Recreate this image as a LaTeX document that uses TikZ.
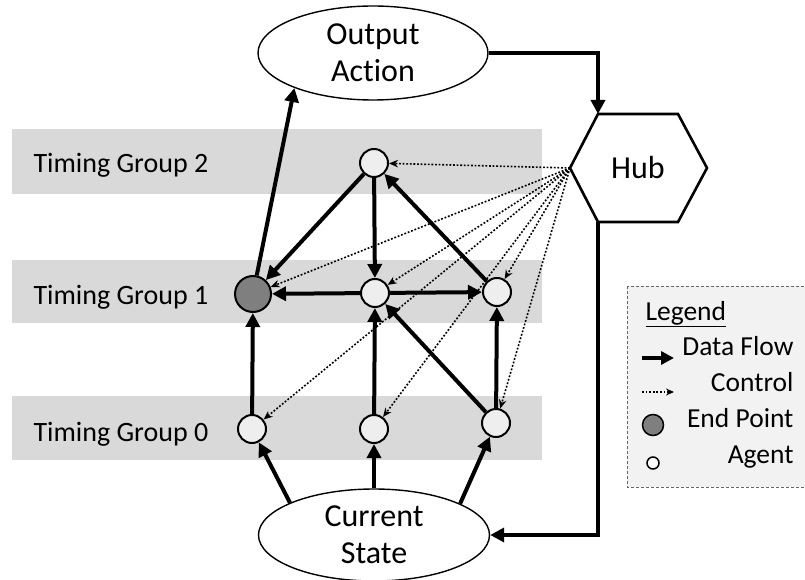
\documentclass[tikz,border=0pt]{standalone}
\usepackage{fontspec}
\setmainfont{Carlito}[Ligatures=NoCommon]
\usetikzlibrary{arrows.meta,shapes.geometric}
\definecolor{band}{HTML}{D9D9D9}
\definecolor{endfill}{HTML}{7F7F7F}
\definecolor{agentfill}{HTML}{EEEEEE}
\definecolor{legfill}{HTML}{F2F2F2}
\definecolor{legline}{HTML}{666666}
\begin{document}
\begin{tikzpicture}[x=1pt,y=-1pt,
  agent/.style={circle,draw,line width=2pt,fill=agentfill,minimum size=28pt,inner sep=0pt},
  endpt/.style={circle,draw,line width=2pt,fill=endfill,minimum size=36pt,inner sep=0pt},
  flow/.style={line width=4pt,-{Triangle[length=14pt,width=14pt]}},
  ctrl/.style={line width=1.6pt,dash pattern=on 1.8pt off 1.8pt,-{Stealth[length=9pt,width=7.5pt]}},
  state/.style={ellipse,draw,line width=1.4pt,fill=white,inner sep=0pt,align=center,
    font=\fontsize{32}{37}\selectfont},
  bandtxt/.style={anchor=base west,font=\fontsize{28}{32}\selectfont},
  legtxt/.style={anchor=base east,font=\fontsize{27.5}{32}\selectfont}]
\useasboundingbox (0,0) rectangle (805,580);

% timing group bands
\fill[band] (12,129) rectangle (542,194);
\fill[band] (12,260) rectangle (542,323);
\fill[band] (12,396) rectangle (542,460);
\node[bandtxt] (tg2) at (30,172) {Timing Group 2};
\node[bandtxt] (tg1) at (30,304) {Timing Group 1};
\node[bandtxt] (tg0) at (30,441) {Timing Group 0};

% input and output states
\node[state,minimum width=230pt,minimum height=94pt] (oa) at (373,53) {Output\\Action};
\node[state,minimum width=231pt,minimum height=92pt] (cs) at (374,535) {Current\\State};

% hub hexagon
\coordinate (hubL)  at (570,168);
\coordinate (hubTL) at (598,114);
\coordinate (hubTR) at (678,114);
\coordinate (hubR)  at (707,168);
\coordinate (hubBR) at (678,222);
\coordinate (hubBL) at (598,222);
\draw[line width=2.6pt,line join=miter,fill=white] (hubL) -- (hubTL) -- (hubTR) -- (hubR) -- (hubBR) -- (hubBL) -- cycle;
\node[font=\fontsize{32}{36}\selectfont] (hub) at (638,168) {Hub};

% agents
\node[agent] (g2)  at (374,163) {};
\node[endpt] (ep)  at (253,294) {};
\node[agent] (g1b) at (375,293) {};
\node[agent] (g1c) at (497,292) {};
\node[agent] (g0a) at (252,429) {};
\node[agent] (g0b) at (374,429) {};
\node[agent] (g0c) at (496,423) {};

% control links from the hub
\foreach \t in {g2,ep,g1b,g1c,g0a,g0b,g0c}
  \draw[ctrl] (hubL) -- (\t);

% data flow
\draw[flow] (cs.159) -- (g0a);
\draw[flow] (cs.north) -- (g0b);
\draw[flow] (cs.20) -- (g0c);
\draw[flow] (g0a) -- (ep);
\draw[flow] (g0b) -- (g1b);
\draw[flow] (g0c) -- (g1c);
\draw[flow] (g0c) -- (g1b);
\draw[flow] (g1b) -- (ep);
\draw[flow] (g1b) -- (g1c);
\draw[flow] (g2) -- (ep);
\draw[flow] (g2) -- (g1b);
\draw[flow] (g1c) -- (g2);
\draw[flow] (ep) -- (oa.204);
\draw[flow,line join=miter] (oa.east) -| (hubTL);
\draw[flow,line join=miter] (hubBL) |- (cs.east);

% legend
\draw[legline,fill=legfill,line width=1pt,dash pattern=on 3pt off 2pt] (627,286) rectangle (812,487);
\node[anchor=base west,font=\fontsize{27.5}{32}\selectfont] (legtitle) at (642,320) {\underline{Legend}};
\coordinate (dfA) at (642,358);
\coordinate (dfB) at (674,358);
\draw[flow,-{Triangle[length=13pt,width=13pt]}] (dfA) -- (dfB);
\node[legtxt] (dftxt) at (797,355) {Data Flow};
\coordinate (ctA) at (642,392);
\coordinate (ctB) at (674,392);
\draw[ctrl,line width=1.3pt,-{Stealth[length=8pt,width=7pt]}] (ctA) -- (ctB);
\node[legtxt] (cttxt) at (797,391) {Control};
\node[endpt,minimum size=21pt,line width=1.5pt] (legep) at (653,425) {};
\node[legtxt] (eptxt) at (797,427) {End Point};
\node[agent,minimum size=12pt,line width=1.5pt,fill=white] (legag) at (653,463) {};
\node[legtxt] (agtxt) at (797,463) {Agent};
\end{tikzpicture}
\end{document}
